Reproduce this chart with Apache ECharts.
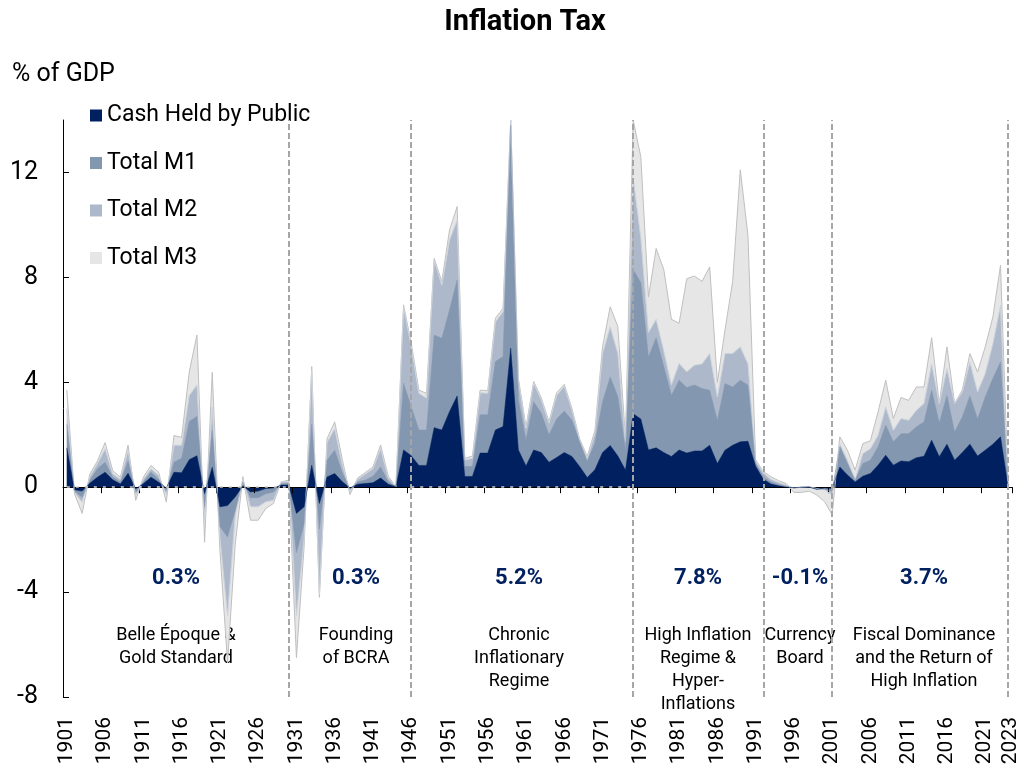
<!DOCTYPE html>
<html>
<head>
<meta charset="utf-8">
<title>Inflation Tax</title>
<script src="https://cdn.jsdelivr.net/npm/echarts@6/dist/echarts.min.js"></script>
<style>
  html, body { margin: 0; padding: 0; background: #fff; }
  #chart { width: 1028px; height: 777px; }
</style>
</head>
<body>
<div id="chart"></div>
<script>
// categories: 1901..2023 and the closing point after 2023
const years = [];
for (let y = 1901; y <= 2023; y++) years.push(String(y));
years.push('');

// % of GDP, one value per year (last one closes the area)
const cashHeld = [
  1.5, -0.1, -0.15, 0.15, 0.38, 0.57, 0.28, 0.12, 0.53, -0.06,      // 1901-1910
  0.13, 0.38, 0.19, -0.03, 0.57, 0.55, 1.05, 1.2, -0.25, 0.76,      // 1911-1920
  -0.75, -0.7, -0.37, 0.05, -0.18, -0.15, -0.05, -0.03, 0.08, 0.08, // 1921-1930
  -1.0, -0.75, 0.84, -0.62, 0.39, 0.52, 0.21, -0.03, 0.11, 0.14,    // 1931-1940
  0.17, 0.35, 0.11, 0.02, 1.42, 1.2, 0.83, 0.83, 2.27, 2.18,        // 1941-1950
  2.88, 3.48, 0.41, 0.41, 1.3, 1.3, 2.18, 2.31, 5.3, 1.42,          // 1951-1960
  0.81, 1.42, 1.32, 0.95, 1.13, 1.32, 1.17, 0.79, 0.37, 0.66,       // 1961-1970
  1.32, 1.59, 1.19, 0.65, 2.8, 2.6, 1.42, 1.5, 1.32, 1.17,          // 1971-1980
  1.42, 1.3, 1.38, 1.38, 1.6, 0.9, 1.41, 1.6, 1.73, 1.75,           // 1981-1990
  0.8, 0.3, 0.12, 0.05, 0.0, -0.02, 0.0, 0.0, -0.08, -0.03,         // 1991-2000
  -0.05, 0.77, 0.46, 0.2, 0.42, 0.52, 0.84, 1.22, 0.84, 1.0,        // 2001-2010
  0.97, 1.12, 1.18, 1.79, 1.16, 1.64, 1.03, 1.32, 1.64, 1.19,       // 2011-2020
  1.41, 1.64, 1.92, 0                                               // 2021-2023, end
];
const totalM1 = [
  2.4, -0.15, -0.38, 0.25, 0.7, 0.95, 0.38, 0.2, 1.0, -0.2,
  0.2, 0.57, 0.3, -0.15, 0.95, 1.1, 2.5, 2.7, -0.76, 2.16,
  -1.5, -1.9, -0.88, 0.2, -0.4, -0.4, -0.25, -0.18, 0.12, 0.15,
  -2.5, -1.4, 2.4, -1.6, 1.03, 1.41, 0.55, -0.08, 0.2, 0.27,
  0.42, 0.77, 0.2, 0.02, 3.96, 3.07, 2.18, 2.18, 5.8, 5.68,
  6.76, 7.9, 0.79, 0.79, 2.76, 2.76, 4.79, 4.98, 13.8, 3.33,
  1.8, 3.26, 2.82, 1.99, 2.6, 2.9, 2.55, 1.74, 0.98, 1.68,
  3.26, 4.2, 3.45, 1.4, 8.3, 7.8, 4.95, 5.7, 4.6, 3.5,
  4.08, 3.8, 3.9, 3.76, 3.7, 2.54, 3.95, 3.82, 4.08, 3.89,
  0.9, 0.4, 0.2, 0.1, 0.03, -0.03, 0.0, 0.02, -0.08, -0.08,
  -0.15, 1.54, 0.9, 0.27, 0.9, 1.03, 1.54, 2.36, 1.73, 2.04,
  2.04, 2.3, 2.49, 3.7, 2.45, 3.5, 2.1, 2.68, 3.48, 2.6,
  3.44, 4.14, 4.77, 0
];
const totalM2 = [
  3.0, -0.2, -0.57, 0.4, 0.9, 1.46, 0.5, 0.3, 1.4, -0.32,
  0.3, 0.7, 0.45, -0.3, 1.6, 1.6, 3.5, 3.9, -1.27, 3.05,
  -1.9, -4.9, -1.1, 0.3, -0.75, -0.75, -0.56, -0.5, 0.2, 0.2,
  -4.9, -2.0, 4.46, -4.1, 1.7, 2.23, 0.85, -0.15, 0.3, 0.5,
  0.7, 1.47, 0.35, 0.02, 6.88, 5.36, 3.58, 3.39, 8.66, 7.7,
  9.42, 10.18, 1.04, 1.1, 3.6, 3.58, 6.3, 6.7, 14.0, 4.09,
  2.25, 3.96, 3.33, 2.44, 3.5, 3.85, 2.95, 1.8, 1.1, 2.06,
  5.1, 6.12, 5.1, 1.75, 11.8, 9.5, 5.9, 6.4, 5.2, 3.9,
  4.72, 4.4, 4.65, 4.7, 5.1, 3.44, 5.1, 5.1, 5.35, 4.7,
  1.0, 0.55, 0.3, 0.18, 0.08, -0.04, 0.0, 0.02, -0.05, -0.1,
  -0.3, 1.66, 1.03, 0.29, 1.28, 1.47, 1.98, 3.06, 2.17, 2.62,
  2.55, 2.93, 3.19, 4.71, 3.19, 4.52, 3.19, 3.63, 4.77, 3.63,
  4.33, 5.47, 6.93, 0
];
const totalM3 = [
  3.7, -0.25, -1.0, 0.5, 1.0, 1.7, 0.63, 0.38, 1.6, -0.5,
  0.38, 0.83, 0.57, -0.57, 1.97, 1.9, 4.4, 5.8, -2.1, 4.38,
  -2.4, -6.7, -2.2, 0.4, -1.26, -1.26, -0.81, -0.62, 0.2, 0.27,
  -6.5, -2.3, 4.6, -4.2, 1.85, 2.49, 1.05, -0.28, 0.35, 0.56,
  0.77, 1.61, 0.42, 0.02, 6.95, 5.5, 3.7, 3.58, 8.72, 7.84,
  9.8, 10.7, 1.1, 1.19, 3.7, 3.68, 6.44, 6.82, 14.0, 4.15,
  2.3, 4.03, 3.4, 2.5, 3.6, 3.92, 3.0, 1.85, 1.17, 2.16,
  5.36, 6.88, 6.12, 1.85, 14.0, 12.6, 7.25, 9.1, 8.3, 6.4,
  6.25, 7.95, 8.05, 7.85, 8.4, 4.0, 6.0, 7.85, 12.1, 9.6,
  1.05, 0.6, 0.4, 0.25, 0.14, -0.2, -0.2, -0.15, -0.3, -0.55,
  -1.05, 1.92, 1.41, 0.65, 1.66, 1.77, 2.87, 4.08, 2.62, 3.42,
  3.31, 3.82, 3.82, 5.7, 3.19, 5.35, 3.19, 3.7, 5.09, 4.39,
  5.35, 6.49, 8.46, 0
];

const yTicks = [-8, -4, 0, 4, 8, 12];
// vertical dividers between periods
const periodBreaks = ['1930', '1946', '1975', '1992', '2001'];
const periodAverages = ['0.3%', '0.3%', '5.2%', '7.8%', '-0.1%', '3.7%'];
const periodNames = [
  'Belle Époque &\nGold Standard',
  'Founding\nof BCRA',
  'Chronic\nInflationary\nRegime',
  'High Inflation\nRegime &\nHyper-\nInflations',
  'Currency\nBoard',
  'Fiscal Dominance\nand the Return of\nHigh Inflation'
];

const FONT = 'Roboto';
const lastIdx = years.length - 1;

const chart = echarts.init(document.getElementById('chart'));

function areaSeries(name, data, color, edge, edgeWidth) {
  return {
    name: name,
    type: 'line',
    data: data,
    symbol: 'none',
    silent: true,
    lineStyle: { color: edge, width: edgeWidth },
    itemStyle: { color: color },
    areaStyle: { color: color, opacity: 1 },
    emphasis: { disabled: true }
  };
}

const zeroDash = { color: '#d0d0d0', type: [3, 6], width: 1.5 };
const cashSeries = areaSeries('Cash Held by Public', cashHeld, '#002060', '#002060', 0.5);
cashSeries.markLine = {
  symbol: 'none',
  silent: true,
  label: { show: false },
  lineStyle: { color: '#a6a6a6', type: [6, 3], width: 2 },
  data: periodBreaks.map(y => ({ xAxis: years.indexOf(y) }))
    .concat([{ xAxis: lastIdx }])
    .concat([
      [{ coord: [0, 0], lineStyle: zeroDash }, { coord: [years.indexOf('1930'), 0] }],
      [{ coord: [years.indexOf('1946'), 0], lineStyle: zeroDash }, { coord: [years.indexOf('1975'), 0] }]
    ])
};

const periodX = [176, 356, 519, 698, 800, 924];
const graphics = [{
  type: 'text', x: 12, y: 75,
  style: { text: '% of GDP', font: '25px ' + FONT, fill: '#000', verticalAlign: 'middle' }
}];
periodNames.forEach((name, i) => {
  graphics.push({
    type: 'text', x: periodX[i], y: 578,
    style: { text: periodAverages[i], font: 'bold 22px ' + FONT, fill: '#002060', align: 'center', verticalAlign: 'middle' }
  });
  graphics.push({
    type: 'text', x: periodX[i], y: 624,
    style: { text: name, font: '18px ' + FONT, lineHeight: 23, fill: '#000', align: 'center', verticalAlign: 'top' }
  });
});

chart.setOption({
  animation: false,
  backgroundColor: '#fff',
  textStyle: { fontFamily: FONT },
  title: {
    text: 'Inflation Tax',
    left: 520,
    top: 3,
    textAlign: 'center',
    textStyle: { fontSize: 29, fontWeight: 'bold', color: '#000', fontFamily: FONT }
  },
  legend: {
    orient: 'vertical',
    left: 85,
    top: 99,
    itemWidth: 12,
    itemHeight: 12,
    itemGap: 24.5,
    icon: 'rect',
    selectedMode: false,
    data: ['Cash Held by Public', 'Total M1', 'Total M2', 'Total M3'],
    textStyle: { fontSize: 23, color: '#000', fontFamily: FONT }
  },
  grid: { left: 63, right: 16, top: 120, bottom: 80, containLabel: false },
  xAxis: [{
    type: 'category',
    data: years,
    boundaryGap: true,
    position: 'bottom',
    axisLine: { show: false, onZero: false },
    axisTick: { show: false },
    splitLine: { show: false },
    axisLabel: {
      interval: (i) => i % 5 === 0 || years[i] === '2023',
      showMinLabel: true,
      showMaxLabel: true,
      hideOverlap: false,
      rotate: 90,
      fontSize: 21,
      color: '#000',
      margin: 20,
      fontFamily: FONT,
      // the last year label sits a little further right, as in the source
      formatter: (v) => v === '2023' ? '{last|' + v + '}' : v,
      rich: { last: { fontSize: 21, fontFamily: FONT, color: '#000', padding: [20, 0, 0, 0] } }
    }
  }, {
    type: 'category',
    data: years,
    boundaryGap: true,
    position: 'bottom',
    z: 3,
    axisLine: { show: true, onZero: true, lineStyle: { color: '#000', width: 1 } },
    axisTick: { show: true, interval: (i) => i % 5 === 0, length: 6, lineStyle: { color: '#000' } },
    axisLabel: { show: false },
    splitLine: { show: false }
  }],
  yAxis: {
    type: 'value',
    min: -8,
    max: 14,
    interval: 4,
    axisLine: { show: true, lineStyle: { color: '#000', width: 1 } },
    axisTick: { show: true, inside: true, length: 6, lineStyle: { color: '#000' }, customValues: yTicks },
    axisLabel: { customValues: yTicks, fontSize: 25, color: '#000', margin: 25, fontFamily: FONT },
    splitLine: { show: false }
  },
  series: [
    areaSeries('Total M3', totalM3, '#e7e6e6', '#bfbfbf', 1),
    areaSeries('Total M2', totalM2, '#adb9ca', '#cdd4de', 1),
    areaSeries('Total M1', totalM1, '#8497b0', '#8497b0', 0.5),
    cashSeries
  ],
  graphic: graphics
});
</script>
</body>
</html>
